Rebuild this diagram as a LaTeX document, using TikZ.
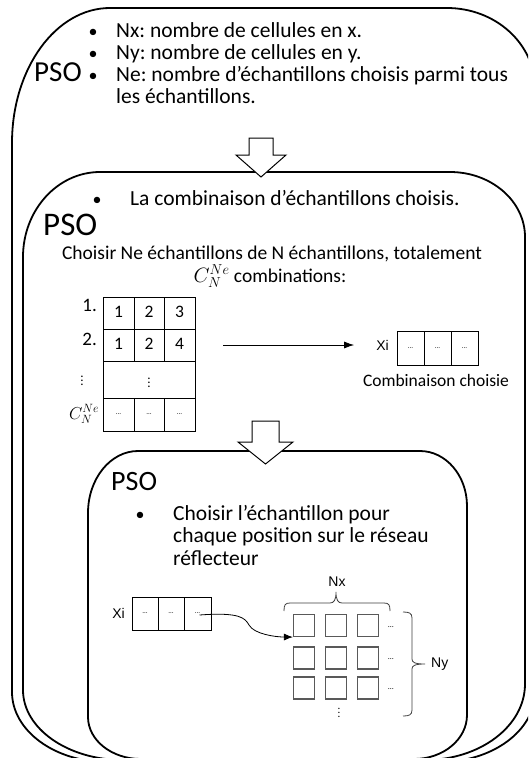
\documentclass[tikz,border=0pt]{standalone}
\usepackage{fontspec}
\setmainfont{Carlito}
\newfontfamily\arialf{Liberation Sans}
\usetikzlibrary{arrows.meta}
\frenchspacing
\tikzset{
  boxline/.style={line width=1.8pt, fill=white},
  blockarrow/.style={line width=1pt, fill=white},
  txt/.style={inner sep=0pt, anchor=base west, font=\fontsize{21.5}{24}\selectfont},
  bul/.style={inner sep=0pt, anchor=base, font=\fontsize{18}{22}\selectfont},
  pso/.style={inner sep=0pt, anchor=base west},
  cell/.style={draw, line width=0.8pt, inner sep=0pt, font=\fontsize{17.5}{20}\selectfont},
  sq/.style={draw=black!65, line width=1.1pt, minimum width=21pt, minimum height=22pt, inner sep=0pt},
  dots/.style={inner sep=0pt, font=\fontsize{8}{9}\selectfont},
  small/.style={inner sep=0pt, font=\arialf\fontsize{14}{16}\selectfont},
  conn/.style={line width=0.8pt, -{Latex[length=9pt,width=7pt]}},
  bracel/.style={draw=black!75, line width=0.8pt},
}
\begin{document}
\begin{tikzpicture}[x=1pt,y=-1pt]
\useasboundingbox (0,0) rectangle (528,758);
\clip (0,0) rectangle (528,758);
% outer box
\draw[boxline] (12,143) .. controls (12,68.5) and (55.9,8) .. (110,8) -- (447,8)
  .. controls (495.6,8) and (535,43.8) .. (535,88) -- (535,692)
  .. controls (535,730.6) and (492.4,762) .. (440,762) -- (107,762)
  .. controls (54.6,762) and (12,730.6) .. (12,692) -- cycle;
% top text
\node[pso, font=\fontsize{29}{32}\selectfont] (pso1) at (34,81) {PSO};
\node[bul] (b1) at (93,37) {•};
\node[bul] (b2) at (93,59) {•};
\node[bul] (b3) at (93,81) {•};
\node[txt] (t1) at (116,37) {Nx: nombre de cellules en x.};
\node[txt] (t2) at (116,59) {Ny: nombre de cellules en y.};
\node[txt] (t3) at (116,81) {Ne: nombre d’échantillons choisis parmi tous};
\node[txt] (t4) at (116,103.5) {les échantillons.};
% second box
\draw[boxline] (23,257) .. controls (23,210.1) and (57.5,172) .. (100,172) -- (450,172)
  .. controls (491.4,172) and (525,201.1) .. (525,237) -- (525,684)
  .. controls (525,726) and (480.2,760) .. (425,760) -- (123,760)
  .. controls (67.8,760) and (23,728.6) .. (23,690) -- cycle;
% block arrow 1
\draw[blockarrow] (249,138) -- (273,138) -- (273,155) -- (286,155) -- (261,177) -- (236,155) -- (249,155) -- cycle;
\node[bul] (b4) at (97,205) {•};
\node[txt] (t5) at (130,205) {La combinaison d’échantillons choisis.};
\node[pso, font=\fontsize{33}{36}\selectfont] (pso2) at (43,235) {PSO};
\node[inner sep=0pt, anchor=base, font=\fontsize{19.5}{22}\selectfont] (t6) at (272,259) {Choisir Ne échantillons de N échantillons, totalement};
\node[inner sep=0pt, anchor=base, font=\fontsize{19.5}{22}\selectfont] (t7) at (270,282) {$C_N^{Ne}$ combinations:};
% table
\node[cell, minimum width=31pt, minimum height=32pt] (c11) at (118.5,313) {\raisebox{3pt}{1}};
\node[cell, minimum width=30pt, minimum height=32pt] (c12) at (149,313) {\raisebox{3pt}{2}};
\node[cell, minimum width=31pt, minimum height=32pt] (c13) at (179.5,313) {\raisebox{3pt}{3}};
\node[cell, minimum width=31pt, minimum height=32pt] (c21) at (118.5,345) {\raisebox{3pt}{1}};
\node[cell, minimum width=30pt, minimum height=32pt] (c22) at (149,345) {\raisebox{3pt}{2}};
\node[cell, minimum width=31pt, minimum height=32pt] (c23) at (179.5,345) {\raisebox{3pt}{4}};
\node[cell, minimum width=92pt, minimum height=37pt, font=\fontsize{13}{15}\selectfont] (c3) at (149,379.5) {$\vdots$};
\node[cell, minimum width=31pt, minimum height=33pt, font=\fontsize{7}{8}\selectfont] (c41) at (118.5,414.5) {…};
\node[cell, minimum width=30pt, minimum height=33pt, font=\fontsize{7}{8}\selectfont] (c42) at (149,414.5) {…};
\node[cell, minimum width=31pt, minimum height=33pt, font=\fontsize{7}{8}\selectfont] (c43) at (179.5,414.5) {…};
\node[inner sep=0pt, anchor=base east, font=\fontsize{19}{21}\selectfont] (r1) at (97,311.5) {1.};
\node[inner sep=0pt, anchor=base east, font=\fontsize{19}{21}\selectfont] (r2) at (97,345) {2.};
\node[inner sep=0pt, font=\fontsize{13}{15}\selectfont] (r3) at (82,378) {$\vdots$};
\node[inner sep=0pt, font=\fontsize{17}{19}\selectfont] (r4) at (84,414) {$C_N^{Ne}$};
% Xi box
\node[small, anchor=east] (xilab) at (389,345) {Xi};
\node[cell, minimum width=27pt, minimum height=34pt, font=\fontsize{7}{8}\selectfont] (x1) at (410.5,348) {…};
\node[cell, minimum width=27pt, minimum height=34pt, font=\fontsize{7}{8}\selectfont] (x2) at (437.5,348) {…};
\node[cell, minimum width=27pt, minimum height=34pt, font=\fontsize{7}{8}\selectfont] (x3) at (464.5,348) {…};
\node[inner sep=0pt, anchor=base, font=\fontsize{17.5}{20}\selectfont] (comb) at (436,386) {Combinaison choisie};
\draw[conn, -{Latex[length=10pt,width=7pt]}, shorten <=28pt, shorten >=22pt] (c23.east) -- (xilab.west);
% third box
\draw[boxline] (88,513) .. controls (88,478.8) and (110.4,451) .. (138,451) -- (420,451)
  .. controls (445.9,451) and (467,475.6) .. (467,506) -- (467,715)
  .. controls (467,739.3) and (443.3,759) .. (414,759) -- (141,759)
  .. controls (111.7,759) and (88,740.2) .. (88,717) -- cycle;
% block arrow 2
\draw[blockarrow] (252,421) -- (279,421) -- (279,442) -- (293,442) -- (265.5,464) -- (238,442) -- (252,442) -- cycle;
\node[pso, font=\fontsize{28}{31}\selectfont] (pso3) at (111,490) {PSO};
\node[bul] (b5) at (140,520) {•};
\node[txt] (t8) at (173,520) {Choisir l’échantillon pour};
\node[txt] (t9) at (173,542.5) {chaque position sur le réseau};
\node[txt] (t10) at (173,565) {réflecteur};
% small Xi
\node[small, anchor=east] (xilab2) at (125,613) {Xi};
\node[cell, minimum width=26pt, minimum height=33pt, font=\fontsize{7}{8}\selectfont] (s1) at (145,613.5) {…};
\node[cell, minimum width=26pt, minimum height=33pt, font=\fontsize{7}{8}\selectfont] (s2) at (171,613.5) {…};
\node[cell, minimum width=27pt, minimum height=33pt, font=\fontsize{7}{8}\selectfont] (s3) at (197.5,613.5) {…};
% grid
\foreach \c/\x in {1/304,2/336,3/368}{
  \foreach \r/\y in {1/625.5,2/658,3/688}{
    \node[sq] (g\r\c) at (\x,\y) {};
  }
}
\node[dots] (e1) at (391,627) {…};
\node[dots] (e2) at (391,659) {…};
\node[dots] (e3) at (391,689) {…};
\node[inner sep=0pt, font=\fontsize{11}{12}\selectfont] (vd) at (339,710) {$\vdots$};
\node[small] (nx) at (337,582) {Nx};
\node[small, anchor=west] (ny) at (431,664) {Ny};
% braces
\draw[bracel] (284,611) .. controls (284,605) and (285,603) .. (290,603) -- (330,603)
  .. controls (334,603) and (336,600) .. (336,592)
  .. controls (336,600) and (338,603) .. (342,603) -- (384,603)
  .. controls (389,603) and (390,605) .. (390,611);
\draw[bracel] (403,612) .. controls (409,612) and (412,613) .. (412,618) -- (412,659)
  .. controls (412,662) and (414,664) .. (425,664)
  .. controls (414,664) and (412,666) .. (412,669) -- (412,710)
  .. controls (412,715) and (409,716) .. (403,716);
\draw[conn] ([xshift=2pt,yshift=-1.5pt]s3.center) .. controls (240,612) and (245,618) .. (249,625)
  .. controls (254,634) and (275,637) .. (g11.south west);
\end{tikzpicture}
\end{document}
